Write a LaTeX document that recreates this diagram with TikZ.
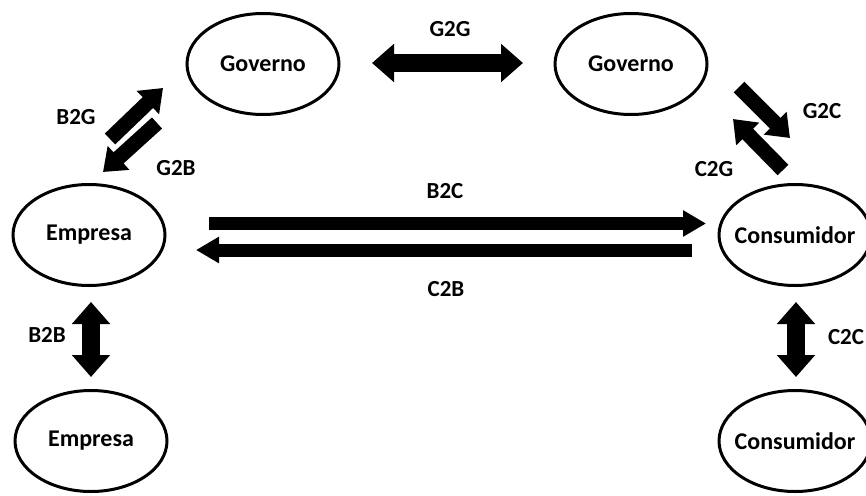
\documentclass[tikz,border=0pt]{standalone}
\usepackage{fontspec}
\setmainfont{Carlito}
\usetikzlibrary{shapes.geometric,arrows.meta}
\newcommand{\zw}[1]{\makebox[0pt]{#1}}
\begin{document}
\begin{tikzpicture}[x=1pt,y=-1pt,
  font=\fontsize{24}{28}\selectfont\bfseries,
  ent/.style={ellipse,draw,line width=3pt,minimum width=152pt,minimum height=101pt,inner sep=0pt},
  lbl/.style={inner sep=0pt,font=\fontsize{23}{27}\selectfont\bfseries},
  tipA/.tip={Triangle[length=22pt,width=37pt]},
  tipB/.tip={Triangle[length=23pt,width=25pt]},
  tipC/.tip={Triangle[length=21pt,width=31pt]},
  dbl/.style={line width=18pt,tipA-tipA},
  hor/.style={line width=13pt,-tipB},
  diag/.style={line width=15pt,-tipC}]
\fill[white] (0,0) rectangle (866,495);
\useasboundingbox (0,0) rectangle (866,495);
% nodes
\node[ent] (gl) at (263,64) {\zw{Governo}};
\node[ent] (gr) at (631,64) {\zw{Governo}};
\node[ent] (el) at (89,235) {\zw{Empresa}};
\node[ent] (cr) at (795,235) {\zw{Consumidor}};
\node[ent] (eb) at (91,441) {\zw{Empresa}};
\node[ent] (cb) at (795,441) {\zw{Consumidor}};
% arrow end points
\coordinate (g2gL) at (372,63);
\coordinate (g2gR) at (523,63);
\coordinate (b2cS) at (209,223.5);
\coordinate (b2cE) at (706,223.5);
\coordinate (c2bS) at (692,250);
\coordinate (c2bE) at (196,250);
\coordinate (b2bT) at (91,302);
\coordinate (b2bB) at (91,377);
\coordinate (c2cT) at (796,302);
\coordinate (c2cB) at (796,377);
\coordinate (b2gS) at (110,139);
\coordinate (b2gE) at (163,88);
\coordinate (g2bS) at (157,123);
\coordinate (g2bE) at (103,172);
\coordinate (g2cS) at (739,87);
\coordinate (g2cE) at (790,138);
\coordinate (c2gS) at (783,170);
\coordinate (c2gE) at (733,119);
% connectors
\draw[dbl] (g2gL) -- (g2gR);
\draw[hor] (b2cS) -- (b2cE);
\draw[hor] (c2bS) -- (c2bE);
\draw[dbl] (b2bT) -- (b2bB);
\draw[dbl] (c2cT) -- (c2cB);
\draw[diag] (b2gS) -- (b2gE);
\draw[diag] (g2bS) -- (g2bE);
\draw[diag] (g2cS) -- (g2cE);
\draw[diag] (c2gS) -- (c2gE);
% labels
\node[lbl] (lg2g) at (450,29) {G2G};
\node[lbl] (lb2c) at (445,191) {B2C};
\node[lbl] (lc2b) at (446,289) {C2B};
\node[lbl] (lb2g) at (76,117) {B2G};
\node[lbl] (lg2b) at (176,168) {G2B};
\node[lbl] (lg2c) at (822,111) {G2C};
\node[lbl] (lc2g) at (714,169) {C2G};
\node[lbl] (lb2b) at (47,335) {B2B};
\node[lbl] (lc2c) at (846,337) {C2C};
\end{tikzpicture}
\end{document}
